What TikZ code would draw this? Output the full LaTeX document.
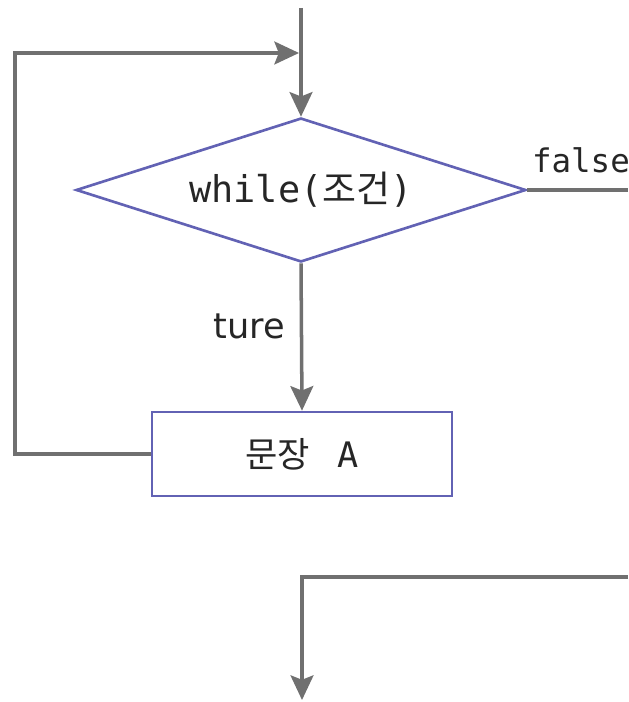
\documentclass[tikz,border=0pt]{standalone}
\usepackage{fontspec}
\setmainfont{DejaVu Sans}
\setmonofont{DejaVu Sans Mono}
\newfontfamily\kr{Noto Sans CJK KR}
\usetikzlibrary{shapes.geometric,arrows.meta}
\definecolor{linegray}{RGB}{112,112,112}
\definecolor{boxblue}{RGB}{98,98,180}
\tikzset{
  line/.style={draw=linegray,line width=2pt},
  arr/.style={line,-{Stealth[length=14pt,width=13pt,inset=2.5pt]}},
  cond/.style={diamond,aspect=3.125,draw=boxblue,line width=1.5pt,minimum width=9cm,minimum height=2.88cm,
    inner sep=0pt,text=black!85,font=\ttfamily\fontsize{21}{25}\selectfont},
  stmt/.style={rectangle,draw=boxblue,line width=1.5pt,minimum width=6cm,minimum height=1.68cm,
    inner sep=0pt,text=black!85,font=\ttfamily\fontsize{20}{24}\selectfont},
  lbl/.style={inner sep=0pt,text=black!85,font=\fontsize{20}{24}\selectfont}
}
\begin{document}
\begin{tikzpicture}[x=0.02cm,y=-0.02cm]
  \useasboundingbox (0,0) rectangle (628,702);
  % boxes
  \node[cond] (while) at (301,190) {while({\kr 조건})};
  \node[stmt] (stmtA) at (302,454) {{\kr 문장}\hspace{.8em}A};
  % loose ends
  \coordinate (top) at (301,8);
  \coordinate (join) at (299,53);
  \coordinate (back) at (15,53);
  \coordinate (falseend) at (628,190);
  \coordinate (outR) at (628,577);
  \coordinate (out) at (302,700);
  % connectors
  \draw[arr] (top) -- (while.north);
  \draw[arr] (while.south) -- node[lbl,pos=.43,left=0.3cm]{ture} (stmtA.north);
  \draw[arr] (stmtA.west) -| (back) -- (join);
  \draw[line] (while.east) -- (falseend) node[pos=0,lbl,anchor=south west,xshift=0.06cm,yshift=0.3cm,font=\ttfamily\fontsize{18.5}{22}\selectfont]{false};
  \draw[arr] (outR) -| (out);
\end{tikzpicture}
\end{document}
